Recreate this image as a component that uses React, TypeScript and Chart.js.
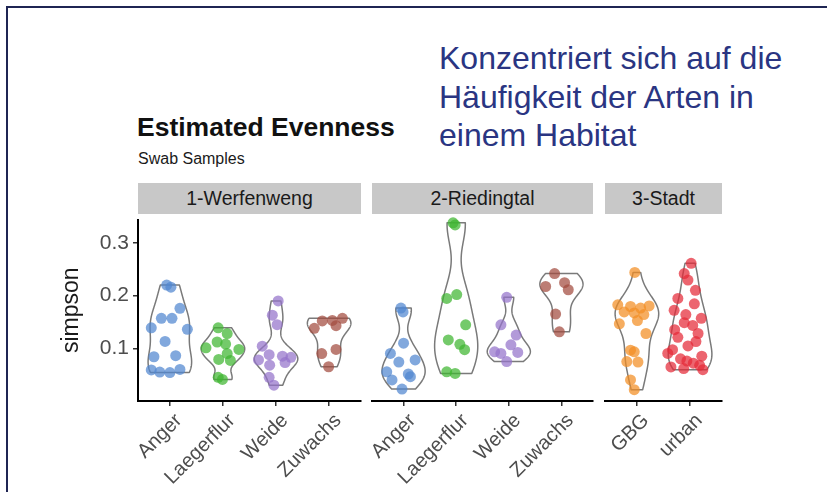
import React, { useEffect, useRef } from "react";
import { Chart, registerables } from "chart.js";
Chart.register(...registerables);

// ---------- text ----------
const slideLines = ["Konzentriert sich auf die", "Häufigkeit der Arten in", "einem Habitat"];
const chartTitle = "Estimated Evenness";
const chartSubtitle = "Swab Samples";
const yAxisTitle = "simpson";
const panelTitles = ["1-Werfenweng", "2-Riedingtal", "3-Stadt"];

// ---------- categories ----------
const werfenwengCats = ["Anger", "Laegerflur", "Weide", "Zuwachs"];
const riedingtalCats = ["Anger", "Laegerflur", "Weide", "Zuwachs"];
const stadtCats = ["GBG", "urban"];
const yTickValues = [0.1, 0.2, 0.3];

// ---------- values (simpson) and horizontal jitter (category units) ----------
const wAnger = [0.22, 0.216, 0.176, 0.157, 0.157, 0.139, 0.136, 0.113, 0.086, 0.084, 0.059, 0.055, 0.054, 0.06];
const wAngerJit = [-0.06, 0.02, 0.19, -0.16, 0.04, -0.35, 0.33, -0.09, 0.11, -0.3, -0.35, -0.19, 0.0, 0.19];
const wLaeg = [0.139, 0.128, 0.112, 0.108, 0.101, 0.098, 0.09, 0.079, 0.077, 0.045, 0.041];
const wLaegJit = [-0.09, 0.08, -0.11, 0.05, -0.32, 0.3, 0.08, -0.08, 0.14, -0.09, -0.01];
const wWeide = [0.19, 0.163, 0.145, 0.104, 0.088, 0.085, 0.083, 0.078, 0.073, 0.068, 0.045, 0.03];
const wWeideJit = [0.04, -0.07, 0.02, -0.26, -0.13, 0.12, 0.28, -0.33, 0.17, -0.12, -0.13, -0.04];
const wZuw = [0.157, 0.153, 0.152, 0.143, 0.138, 0.098, 0.09, 0.065];
const wZuwJit = [0.25, 0.06, -0.13, 0.13, -0.28, 0.13, -0.14, -0.01];

const rAnger = [0.172, 0.165, 0.107, 0.088, 0.076, 0.072, 0.054, 0.05, 0.045, 0.039, 0.022];
const rAngerJit = [-0.05, -0.01, 0.0, -0.25, 0.22, -0.09, -0.32, 0.09, 0.13, -0.22, -0.03];
const rLaeg = [0.33, 0.326, 0.197, 0.19, 0.141, 0.113, 0.105, 0.095, 0.054, 0.051];
const rLaegJit = [-0.06, -0.02, 0.01, -0.18, 0.18, -0.15, 0.07, 0.16, -0.18, -0.02];
const rWeide = [0.192, 0.141, 0.122, 0.104, 0.091, 0.09, 0.088, 0.073];
const rWeideJit = [-0.04, -0.15, 0.14, 0.04, -0.27, 0.17, -0.15, -0.04];
const rZuw = [0.236, 0.219, 0.212, 0.206, 0.161, 0.128];
const rZuwJit = [-0.13, 0.06, -0.3, 0.13, -0.11, -0.04];

const sGBG = [0.238, 0.178, 0.176, 0.175, 0.172, 0.165, 0.163, 0.16, 0.149, 0.143, 0.125, 0.094, 0.091, 0.073, 0.072, 0.039, 0.021];
const sGBGJit = [-0.04, -0.36, 0.23, -0.12, 0.07, -0.24, -0.05, 0.13, 0.01, -0.33, 0.17, -0.12, -0.05, -0.19, 0.02, -0.12, -0.05];
const sUrban = [0.255, 0.236, 0.224, 0.205, 0.19, 0.18, 0.168, 0.16, 0.153, 0.145, 0.14, 0.132, 0.125, 0.118, 0.11, 0.102, 0.095, 0.088, 0.083, 0.078, 0.074, 0.07, 0.066, 0.063, 0.06, 0.058];
const sUrbanJit = [0.02, -0.11, -0.04, 0.1, -0.23, 0.08, -0.3, -0.08, 0.21, -0.11, 0.05, -0.29, 0.15, -0.23, 0.11, -0.04, -0.33, -0.42, 0.22, -0.18, -0.06, 0.06, 0.18, -0.36, -0.12, 0.24];

const categoryColors: Record<string, string> = {
  Anger: "rgba(81,135,208,0.72)",
  Laegerflur: "rgba(62,181,48,0.72)",
  Weide: "rgba(148,115,202,0.72)",
  Zuwachs: "rgba(162,75,62,0.72)",
  GBG: "rgba(242,142,35,0.72)",
  urban: "rgba(228,42,55,0.72)",
};

const FONT = "'Liberation Sans', Arial, Helvetica, sans-serif";

// ---------- layout (pixels) ----------
const PLOT_TOP = 215;
const PLOT_H = 186;
const PAD_TOP = 12;
const X_AXIS_H = 90;
const SIDE_PAD = 30;
const Y_AXIS_W = 80;
const panelBoxes = [
  { left: 138, width: 223 },
  { left: 372, width: 221 },
  { left: 605, width: 117 },
];
const Y_MIN = 0;
const Y_MAX = 0.3444;
const VIOLIN_HALF = 0.41;

type Group = { cat: string; values: number[]; jitter: number[] };

const panels: { cats: string[]; groups: Group[] }[] = [
  {
    cats: werfenwengCats,
    groups: [
      { cat: "Anger", values: wAnger, jitter: wAngerJit },
      { cat: "Laegerflur", values: wLaeg, jitter: wLaegJit },
      { cat: "Weide", values: wWeide, jitter: wWeideJit },
      { cat: "Zuwachs", values: wZuw, jitter: wZuwJit },
    ],
  },
  {
    cats: riedingtalCats,
    groups: [
      { cat: "Anger", values: rAnger, jitter: rAngerJit },
      { cat: "Laegerflur", values: rLaeg, jitter: rLaegJit },
      { cat: "Weide", values: rWeide, jitter: rWeideJit },
      { cat: "Zuwachs", values: rZuw, jitter: rZuwJit },
    ],
  },
  {
    cats: stadtCats,
    groups: [
      { cat: "GBG", values: sGBG, jitter: sGBGJit },
      { cat: "urban", values: sUrban, jitter: sUrbanJit },
    ],
  },
];

// Gaussian KDE (bandwidth nrd0), trimmed to data range, scaled to max 1
function violinProfile(values: number[]): [number, number][] {
  const s = [...values].sort((a, b) => a - b);
  const n = s.length;
  const mean = s.reduce((a, b) => a + b, 0) / n;
  const sd = Math.sqrt(s.reduce((a, b) => a + (b - mean) ** 2, 0) / (n - 1));
  const q = (p: number) => {
    const h = (n - 1) * p;
    const lo = Math.floor(h);
    const hi = Math.min(lo + 1, n - 1);
    return s[lo] + (h - lo) * (s[hi] - s[lo]);
  };
  const iqr = q(0.75) - q(0.25);
  let lo = Math.min(sd, iqr / 1.34);
  if (!(lo > 0)) lo = sd || 0.01;
  const bw = 0.9 * lo * Math.pow(n, -0.2);
  const N = 160;
  const out: [number, number][] = [];
  for (let k = 0; k < N; k++) {
    const y = s[0] + ((s[n - 1] - s[0]) * k) / (N - 1);
    let d = 0;
    for (const v of s) d += Math.exp(-0.5 * ((y - v) / bw) ** 2);
    out.push([y, d]);
  }
  const max = Math.max(...out.map((p) => p[1]));
  return out.map(([y, d]) => [y, d / max]);
}

function makeChart(canvas: HTMLCanvasElement, panelIndex: number) {
  const { cats, groups } = panels[panelIndex];
  const showY = panelIndex === 0;
  const profiles = groups.map((g) => violinProfile(g.values));

  const violinPlugin = {
    id: "violins" + panelIndex,
    beforeDatasetsDraw(chart: any) {
      const { ctx, scales } = chart;
      const xs = scales.x;
      const ys = scales.y;
      ctx.save();
      ctx.lineWidth = 1.5;
      ctx.strokeStyle = "#7a7a7a";
      ctx.fillStyle = "#ffffff";
      ctx.lineJoin = "round";
      profiles.forEach((prof, ci) => {
        ctx.beginPath();
        prof.forEach(([v, w], k) => {
          const px = xs.getPixelForValue(ci + w * VIOLIN_HALF);
          const py = ys.getPixelForValue(v);
          if (k === 0) ctx.moveTo(px, py);
          else ctx.lineTo(px, py);
        });
        for (let k = prof.length - 1; k >= 0; k--) {
          const [v, w] = prof[k];
          ctx.lineTo(xs.getPixelForValue(ci - w * VIOLIN_HALF), ys.getPixelForValue(v));
        }
        ctx.closePath();
        ctx.fill();
        ctx.stroke();
      });
      ctx.restore();
    },
  };

  return new Chart(canvas, {
    type: "scatter",
    data: {
      datasets: groups.map((g, ci) => ({
        label: g.cat,
        data: g.values.map((v, i) => ({ x: ci + g.jitter[i], y: v })),
        backgroundColor: categoryColors[g.cat],
        borderWidth: 0,
        pointRadius: 5.5,
        pointHoverRadius: 5.5,
        clip: false as any,
      })),
    },
    options: {
      animation: false,
      responsive: false,
      events: [],
      layout: {
        padding: { top: PAD_TOP, bottom: 0, left: showY ? 0 : SIDE_PAD, right: SIDE_PAD },
      },
      plugins: { legend: { display: false }, tooltip: { enabled: false }, title: { display: false } },
      scales: {
        x: {
          type: "linear",
          min: -0.6,
          max: cats.length - 0.4,
          afterBuildTicks: (s: any) => {
            s.ticks = cats.map((_, i) => ({ value: i }));
          },
          afterFit: (s: any) => {
            s.height = X_AXIS_H;
            s.paddingLeft = 0;
            s.paddingRight = 0;
          },
          grid: { display: true, drawOnChartArea: false, drawTicks: true, tickLength: 5, color: "#333333", lineWidth: 1.5 },
          border: { display: true, color: "#000000", width: 2 },
          ticks: {
            autoSkip: false,
            minRotation: 45,
            maxRotation: 45,
            padding: 3,
            labelOffset: 9,
            color: "#4d4d4d",
            font: { family: FONT, size: 20 },
            callback: (v: any) => cats[Math.round(Number(v))] ?? "",
          },
        },
        y: {
          type: "linear",
          display: showY,
          min: Y_MIN,
          max: Y_MAX,
          afterBuildTicks: (s: any) => {
            s.ticks = yTickValues.map((v) => ({ value: v }));
          },
          afterFit: (s: any) => {
            s.width = showY ? Y_AXIS_W : 0;
          },
          grid: { display: true, drawOnChartArea: false, drawTicks: true, tickLength: 5, color: "#333333", lineWidth: 1.5 },
          border: { display: true, color: "#000000", width: 2 },
          ticks: {
            padding: 4,
            color: "#4d4d4d",
            font: { family: FONT, size: 21 },
            callback: (v: any) => Number(v).toFixed(1),
          },
          title: {
            display: true,
            text: yAxisTitle,
            color: "#1a1a1a",
            font: { family: FONT, size: 23 },
            padding: { top: 0, bottom: 0 },
          },
        },
      },
    },
    plugins: [violinPlugin],
  } as any);
}

export default function App() {
  const refs = [useRef<HTMLCanvasElement>(null), useRef<HTMLCanvasElement>(null), useRef<HTMLCanvasElement>(null)];

  useEffect(() => {
    const charts = refs.map((r, i) => makeChart(r.current as HTMLCanvasElement, i));
    return () => charts.forEach((c) => c.destroy());
  }, []);

  const canvasH = PAD_TOP + PLOT_H + X_AXIS_H;
  const canvasGeom = panelBoxes.map((b, i) =>
    i === 0
      ? { left: b.left - Y_AXIS_W, width: Y_AXIS_W + b.width + SIDE_PAD }
      : { left: b.left - SIDE_PAD, width: SIDE_PAD + b.width + SIDE_PAD }
  );

  return (
    <div style={{ position: "absolute", left: 0, top: 0, width: 827, height: 492, background: "#fff", overflow: "hidden", fontFamily: FONT }}>
      {/* slide frame */}
      <div style={{ position: "absolute", left: 6, top: 6, width: 830, height: 500, borderTop: "2px solid #1f2553", borderLeft: "2px solid #1f2553" }} />
      {/* slide text */}
      <div style={{ position: "absolute", left: 439, top: 39, color: "#2a3582", fontSize: 32, lineHeight: "38.5px", whiteSpace: "nowrap" }}>
        {slideLines.map((l, i) => (
          <div key={i}>{l}</div>
        ))}
      </div>
      {/* title and subtitle */}
      <div style={{ position: "absolute", left: 137, top: 113, fontSize: 26.5, fontWeight: "bold", color: "#111", lineHeight: "28px", whiteSpace: "nowrap" }}>{chartTitle}</div>
      <div style={{ position: "absolute", left: 138, top: 149, fontSize: 16, color: "#1a1a1a", lineHeight: "20px", whiteSpace: "nowrap" }}>{chartSubtitle}</div>
      {/* strips */}
      {panelBoxes.map((b, i) => (
        <div
          key={"s" + i}
          style={{ position: "absolute", left: b.left, top: 183, width: b.width, height: 31, background: "#c8c8c8", color: "#1a1a1a", fontSize: 19.5, lineHeight: "31px", textAlign: "center", whiteSpace: "nowrap" }}
        >
          {panelTitles[i]}
        </div>
      ))}
      {/* facet charts */}
      {canvasGeom.map((g, i) => (
        <canvas
          key={"c" + i}
          ref={refs[i]}
          width={g.width}
          height={canvasH}
          style={{ position: "absolute", left: g.left, top: PLOT_TOP - PAD_TOP, width: g.width, height: canvasH }}
        />
      ))}
    </div>
  );
}
